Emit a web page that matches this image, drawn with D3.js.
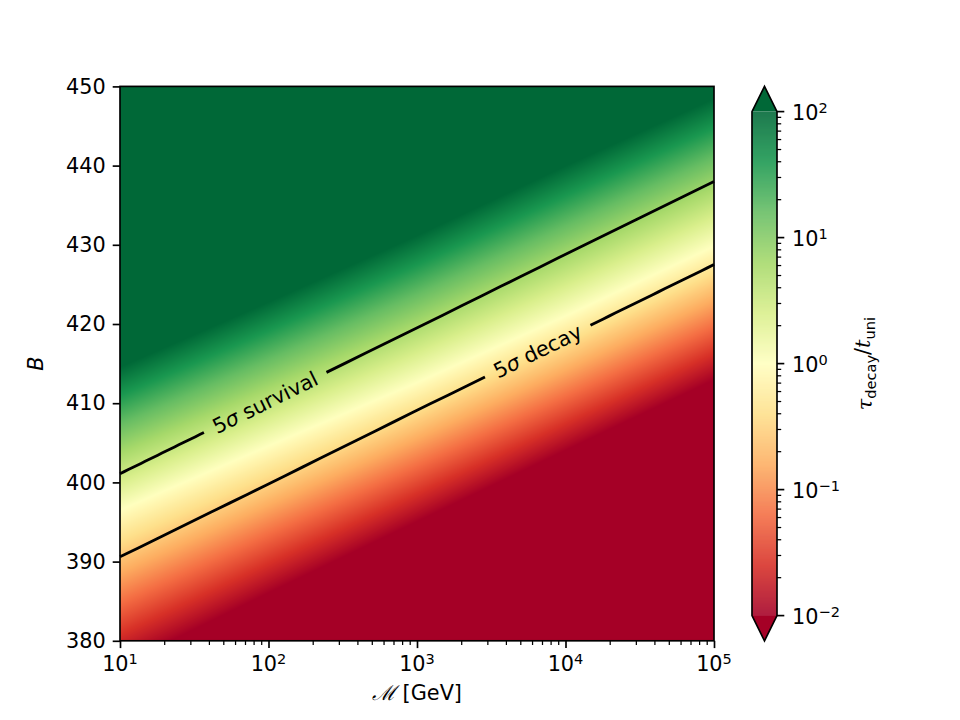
<!DOCTYPE html>
<html>
<head>
<meta charset="utf-8">
<script src="https://cdn.jsdelivr.net/npm/d3@7"></script>
<style>
  body { margin: 0; background: #fff; }
  text { font-family: "DejaVu Sans", sans-serif; }
</style>
</head>
<body>
<div id="vis"></div>
<script>
// mass decades on the x axis
const massDecades = [1e1, 1e2, 1e3, 1e4, 1e5]
// B where log10(tau/t_uni) = -2, 0, +2 (per mass decade)
const bLevelMinus2 = [376.8, 386.0, 395.0, 404.0, 412.9]
const bLevelZero = [396.5, 404.6, 412.6, 421.0, 429.8]
const bLevelPlus2 = [414.6, 422.8, 431.2, 440.0, 448.5]
// contour lines
const survivalB = [401.1, 410.3, 419.5, 428.8, 438.0]
const decayB = [390.6, 399.8, 409.1, 418.3, 427.5]
const contourLabels = [['5', 'σ', ' survival'], ['5', 'σ', ' decay']]
const contourLabelMass = [95, 6500]
// ticks
const yTicks = [380, 390, 400, 410, 420, 430, 440, 450]
const cbarTicks = [1e-2, 1e-1, 1e0, 1e1, 1e2]

const rdylgn = ['#a50026','#d73027','#f46d43','#fdae61','#fee08b','#ffffbf',
                '#d9ef8b','#a6d96a','#66bd63','#1a9850','#006837']

let width = 960, height = 720
let plot = {left: 120, right: 714, top: 86.4, bottom: 640.8}

let svg = d3.select('#vis').append('svg')
  .attr('width', width).attr('height', height)

let xScale = d3.scaleLog().domain([1e1, 1e5]).range([plot.left, plot.right])
let yScale = d3.scaleLinear().domain([380, 450]).range([plot.bottom, plot.top])

let colorScale = d3.scaleLinear()
  .domain(d3.range(11).map(i => -2 + i * 0.4))
  .range(rdylgn)
  .clamp(true)

// B of each level as a function of mass
let m2Scale = d3.scaleLog().domain(massDecades).range(bLevelMinus2)
let zScale = d3.scaleLog().domain(massDecades).range(bLevelZero)
let p2Scale = d3.scaleLog().domain(massDecades).range(bLevelPlus2)

// heatmap via canvas
let pw = Math.round(plot.right - plot.left), ph = Math.round(plot.bottom - plot.top)
let canvas = document.createElement('canvas')
canvas.width = pw; canvas.height = ph
let ctx = canvas.getContext('2d')
let img = ctx.createImageData(pw, ph)
let lut = d3.range(1001).map(i => d3.rgb(colorScale(-2 + i * 4 / 1000)))
for (let i = 0; i < pw; i++) {
  let m = xScale.invert(plot.left + i + 0.5)
  let v = d3.scaleLinear().domain([m2Scale(m), zScale(m), p2Scale(m)]).range([-2, 0, 2])
  for (let j = 0; j < ph; j++) {
    let b = yScale.invert(plot.top + j + 0.5)
    let val = Math.max(-2, Math.min(2, v(b)))
    let c = lut[Math.round((val + 2) / 4 * 1000)]
    let k = (j * pw + i) * 4
    img.data[k] = c.r; img.data[k+1] = c.g; img.data[k+2] = c.b; img.data[k+3] = 255
  }
}
ctx.putImageData(img, 0, 0)
svg.append('image')
  .attr('x', plot.left).attr('y', plot.top)
  .attr('width', pw).attr('height', ph)
  .attr('preserveAspectRatio', 'none')
  .attr('href', canvas.toDataURL())

// contour lines with labels
let fs = 20.8
;[survivalB, decayB].forEach((bs, idx) => {
  let bScale = d3.scaleLog().domain(massDecades).range(bs)
  let lm = contourLabelMass[idx]
  let lx = xScale(lm), ly = yScale(bScale(lm))
  let dx = 1
  let dy = yScale(bScale(xScale.invert(lx + dx))) - ly
  let angle = Math.atan2(dy, dx) * 180 / Math.PI

  let label = svg.append('text')
    .attr('transform', `translate(${lx},${ly}) rotate(${angle})`)
    .attr('text-anchor', 'middle')
    .attr('dy', '0.35em')
    .attr('font-size', fs)
  label.selectAll('tspan').data(contourLabels[idx]).join('tspan')
    .attr('font-style', (d, i) => i === 1 ? 'italic' : null)
    .text(d => d)
  let tw = label.node().getComputedTextLength()
  let gap = (tw / 2 + 11) * Math.cos(angle * Math.PI / 180)

  let segs = [[plot.left, lx - gap], [lx + gap, plot.right]]
  segs.forEach(s => {
    let pts = d3.range(0, 21).map(t => {
      let px = s[0] + (s[1] - s[0]) * t / 20
      return [px, yScale(bScale(xScale.invert(px)))]
    })
    svg.append('path')
      .attr('d', d3.line()(pts))
      .attr('fill', 'none')
      .attr('stroke', '#000')
      .attr('stroke-width', 2.8)
  })
})

// axes
function powLabel(sel, d) {
  let e = Math.round(Math.log10(d))
  sel.text('')
  sel.append('tspan').text('10')
  sel.append('tspan').attr('dy', '-0.45em').attr('font-size', '0.7em')
    .text(String(e).replace('-', '−'))
}

let xAxis = svg.append('g')
  .attr('transform', `translate(0,${plot.bottom})`)
  .call(d3.axisBottom(xScale).tickValues(massDecades).tickSize(7.3).tickPadding(5).tickFormat(''))
xAxis.selectAll('.tick text').remove()
massDecades.forEach(d => {
  let t = svg.append('text')
    .attr('x', xScale(d)).attr('y', plot.bottom + 30)
    .attr('text-anchor', 'middle')
    .attr('font-size', fs)
  powLabel(t, d)
})
let xMinor = []
massDecades.slice(0, -1).forEach(d => { for (let k = 2; k < 10; k++) xMinor.push(d * k) })
svg.append('g')
  .attr('transform', `translate(0,${plot.bottom})`)
  .selectAll('line').data(xMinor).join('line')
  .attr('x1', d => xScale(d)).attr('x2', d => xScale(d))
  .attr('y1', 0).attr('y2', 4.2)
  .attr('stroke', '#000').attr('stroke-width', 1.25)

let yAxis = svg.append('g')
  .attr('transform', `translate(${plot.left},0)`)
  .call(d3.axisLeft(yScale).tickValues(yTicks).tickSize(7.3).tickPadding(7))
yAxis.selectAll('.tick text').attr('font-size', fs).attr('fill', '#000')

svg.selectAll('.domain').remove()
svg.selectAll('.tick line').attr('stroke', '#000').attr('stroke-width', 1.67)

svg.append('rect')
  .attr('x', plot.left).attr('y', plot.top)
  .attr('width', plot.right - plot.left).attr('height', plot.bottom - plot.top)
  .attr('fill', 'none').attr('stroke', '#000').attr('stroke-width', 1.67)

svg.append('text')
  .attr('x', (plot.left + plot.right) / 2).attr('y', 700)
  .attr('text-anchor', 'middle').attr('font-size', fs)
  .html('<tspan font-family="DejaVu Serif" font-style="italic">ℳ</tspan> [GeV]')

svg.append('text')
  .attr('transform', `translate(43,${(plot.top + plot.bottom) / 2}) rotate(-90)`)
  .attr('text-anchor', 'middle').attr('font-size', fs)
  .attr('font-style', 'italic')
  .text('B')

// colorbar
let cb = {left: 752, right: 777, top: 111.6, bottom: 615.6, tipTop: 86.4, tipBottom: 640.8}
let cScale = d3.scaleLog().domain([1e-2, 1e2]).range([cb.bottom, cb.top])
let cbRows = d3.range(Math.ceil(cb.bottom - cb.top))
svg.append('g').selectAll('rect').data(cbRows).join('rect')
  .attr('x', cb.left).attr('y', d => cb.top + d)
  .attr('width', cb.right - cb.left).attr('height', 1.2)
  .attr('fill', d => colorScale(Math.log10(cScale.invert(cb.top + d + 0.5))))
let midX = (cb.left + cb.right) / 2
svg.append('path')
  .attr('d', `M${cb.left},${cb.top}L${midX},${cb.tipTop}L${cb.right},${cb.top}Z`)
  .attr('fill', rdylgn[10])
svg.append('path')
  .attr('d', `M${cb.left},${cb.bottom}L${midX},${cb.tipBottom}L${cb.right},${cb.bottom}Z`)
  .attr('fill', rdylgn[0])
svg.append('path')
  .attr('d', `M${cb.left},${cb.top}L${midX},${cb.tipTop}L${cb.right},${cb.top}L${cb.right},${cb.bottom}L${midX},${cb.tipBottom}L${cb.left},${cb.bottom}Z`)
  .attr('fill', 'none').attr('stroke', '#000').attr('stroke-width', 1.67)

let cMinor = []
cbarTicks.slice(0, -1).forEach(d => { for (let k = 2; k < 10; k++) cMinor.push(d * k) })
svg.append('g').selectAll('line').data(cMinor).join('line')
  .attr('x1', cb.right).attr('x2', cb.right + 4.2)
  .attr('y1', d => cScale(d)).attr('y2', d => cScale(d))
  .attr('stroke', '#000').attr('stroke-width', 1.25)
svg.append('g').selectAll('line').data(cbarTicks).join('line')
  .attr('x1', cb.right).attr('x2', cb.right + 7.3)
  .attr('y1', d => cScale(d)).attr('y2', d => cScale(d))
  .attr('stroke', '#000').attr('stroke-width', 1.67)
cbarTicks.forEach(d => {
  let t = svg.append('text')
    .attr('x', cb.right + 15).attr('y', cScale(d) + 8)
    .attr('font-size', fs)
  powLabel(t, d)
})

svg.append('text')
  .attr('transform', `translate(872,${(cb.top + cb.bottom) / 2}) rotate(-90)`)
  .attr('text-anchor', 'middle').attr('font-size', fs)
  .html('<tspan font-style="italic" font-family="DejaVu Serif">τ</tspan><tspan font-size="0.7em" dy="0.3em">decay</tspan><tspan dy="-0.3em">/</tspan><tspan font-style="italic" font-family="DejaVu Serif">t</tspan><tspan font-size="0.7em" dy="0.3em">uni</tspan>')
</script>
</body>
</html>
